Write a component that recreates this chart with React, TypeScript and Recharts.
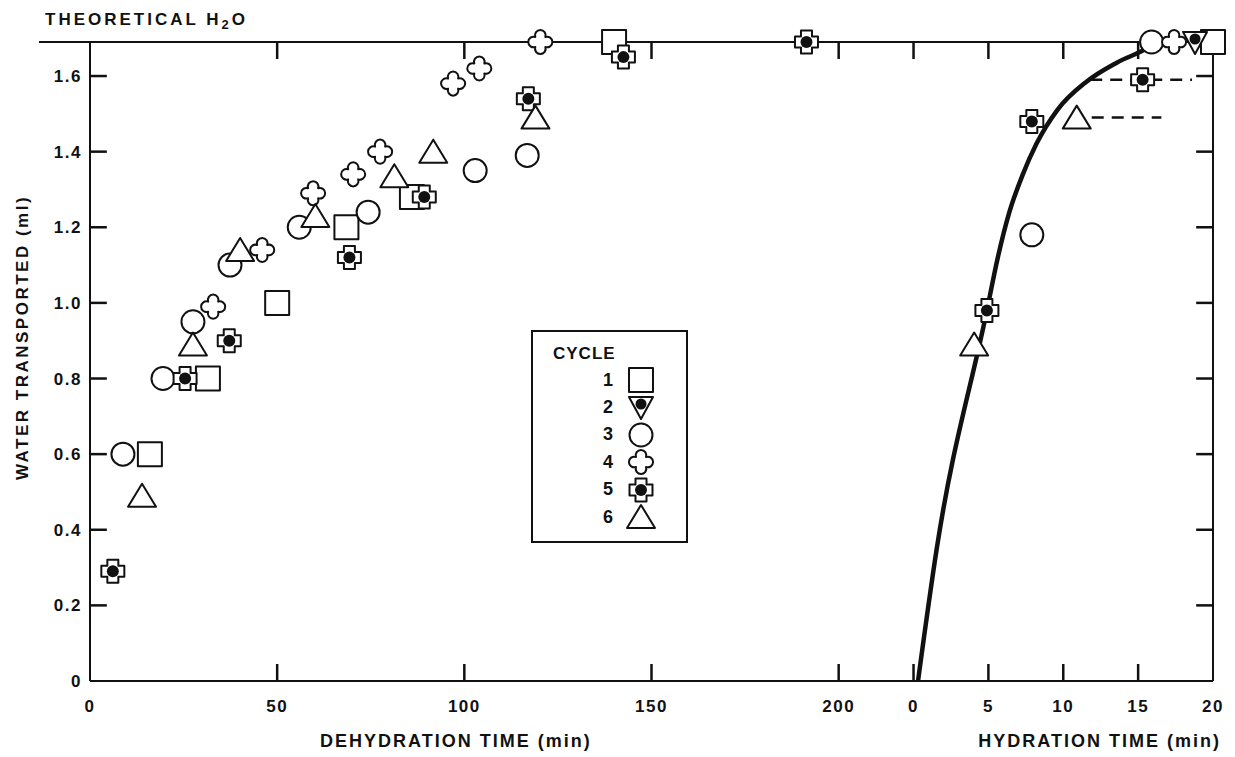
import React from "react";
import {
  ComposedChart,
  XAxis,
  YAxis,
  Scatter,
  Line,
  ReferenceLine,
  Legend,
} from "recharts";

const INK = "#111";
const FONT = "'Liberation Sans', Arial, Helvetica, sans-serif";

// theoretical water content (ml) = top of the frame
const THEORETICAL_H2O = 1.69;

// hydration minutes share the x axis with dehydration minutes:
// hydration 0 sits at 220 and one hydration minute spans 4 axis units
const HYD_OFFSET = 220;
const HYD_SCALE = 4;
const X_MAX = 300;
const toAxis = (m: number) => HYD_OFFSET + m * HYD_SCALE;

const DEHYD_TICKS = [0, 50, 100, 150, 200];
const HYD_TICKS = [0, 5, 10, 15, 20];
const Y_TICKS = [0, 0.2, 0.4, 0.6, 0.8, 1.0, 1.2, 1.4, 1.6];

const CYCLES = ["1", "2", "3", "4", "5", "6"];
const SHAPES = ["square", "invTriangle", "circle", "clover", "dotCross", "triangle"];

// cycle 1
const c1DehydT = [16, 31.5, 50, 68.5, 86, 140];
const c1DehydV = [0.6, 0.8, 1.0, 1.2, 1.28, 1.69];
const c1HydT = [20];
const c1HydV = [1.69];

// cycle 2
const c2DehydT: number[] = [];
const c2DehydV: number[] = [];
const c2HydT = [18.8];
const c2HydV = [1.69];

// cycle 3
const c3DehydT = [8.8, 19.5, 27.5, 37.4, 55.9, 74.3, 102.9, 116.8];
const c3DehydV = [0.6, 0.8, 0.95, 1.1, 1.2, 1.24, 1.35, 1.39];
const c3HydT = [7.9, 15.9];
const c3HydV = [1.18, 1.69];

// cycle 4
const c4DehydT = [32.9, 46, 59.6, 70.3, 77.5, 97, 104, 120.3];
const c4DehydV = [0.99, 1.14, 1.29, 1.34, 1.4, 1.58, 1.62, 1.69];
const c4HydT = [17.4];
const c4HydV = [1.69];

// cycle 5
const c5DehydT = [6.1, 25.4, 37.2, 69.3, 89.3, 117.1, 142.5, 191.4];
const c5DehydV = [0.29, 0.8, 0.9, 1.12, 1.28, 1.54, 1.65, 1.69];
const c5HydT = [4.9, 7.9, 15.3];
const c5HydV = [0.98, 1.48, 1.59];

// cycle 6
const c6DehydT = [13.9, 27.5, 40.1, 60.2, 81.3, 91.7, 119];
const c6DehydV = [0.49, 0.89, 1.14, 1.23, 1.335, 1.4, 1.49];
const c6HydT = [4.05, 10.9];
const c6HydV = [0.89, 1.49];

// hydration fit curve
const curveT = [0.3, 1.55, 4.9, 5.6, 6.4, 7.3, 8.2, 9.6, 11.55, 13.6, 15.65, 16.2];
const curveV = [0, 0.35, 0.98, 1.115, 1.24, 1.34, 1.42, 1.51, 1.585, 1.636, 1.675, 1.69];

// dashed plateau lines (hydration min)
const dashUpperT = [11.8, 18.6];
const dashUpperV = [1.59, 1.59];
const dashLowerT = [11.9, 16.55];
const dashLowerV = [1.49, 1.49];

const cycleData = [
  [c1DehydT, c1DehydV, c1HydT, c1HydV],
  [c2DehydT, c2DehydV, c2HydT, c2HydV],
  [c3DehydT, c3DehydV, c3HydT, c3HydV],
  [c4DehydT, c4DehydV, c4HydT, c4HydV],
  [c5DehydT, c5DehydV, c5HydT, c5HydV],
  [c6DehydT, c6DehydV, c6HydT, c6HydV],
].map(([dt, dv, ht, hv]) => [
  ...dt.map((t, i) => ({ x: t, y: dv[i] })),
  ...ht.map((t, i) => ({ x: toAxis(t), y: hv[i] })),
]);

const hydLine = (ts: number[], vs: number[]) =>
  ts.map((t, i) => ({ x: toAxis(t), y: vs[i] }));

const X_TICKS = [...DEHYD_TICKS, ...HYD_TICKS.map(toAxis)];
const fmtX = (v: number) =>
  v <= DEHYD_TICKS[DEHYD_TICKS.length - 1] ? String(v) : String((v - HYD_OFFSET) / HYD_SCALE);
const fmtY = (v: number) => (v === 0 ? "0" : v.toFixed(1));

// inward tick marks
const TICK_LEN = 17;
const TICK_DX = 4.5; // ~17px in axis units
const innerX = X_TICKS.filter((t) => t > 0 && t < X_MAX);
const innerY = Y_TICKS.filter((v) => v > 0);

const BOTTOM_GAP = 19;
const textBase = { fill: INK, fontWeight: 700, fontFamily: FONT };

const BottomTick = (p: any) => (
  <text x={p.x} y={p.y} dy="0.71em" textAnchor="middle" fontSize={17} letterSpacing={1.5} {...textBase}>
    {fmtX(p.payload.value)}
  </text>
);

const LeftTick = (p: any) => (
  <text x={p.x} y={p.y} dy="0.36em" textAnchor="end" fontSize={17} letterSpacing={1.5} {...textBase}>
    {fmtY(p.payload.value)}
  </text>
);

// horizontal frame edge (bottom or top) with its inward x ticks;
// tick positions follow the linear x domain across the edge
const edgeTicks = (p: any, dir: number) => {
  const left = Math.min(p.x1, p.x2);
  const right = Math.max(p.x1, p.x2);
  const y = p.y1;
  const d = innerX
    .map((t) => {
      const x = left + (t / X_MAX) * (right - left);
      return `M${x},${y} V${y + dir * TICK_LEN}`;
    })
    .join(" ");
  return <path d={d} stroke={INK} strokeWidth={2.5} fill="none" />;
};

const Marker = ({ kind, cx, cy }: { kind: string; cx: number; cy: number }) => {
  const common = { fill: "#fff", stroke: INK, strokeWidth: 2, strokeLinejoin: "round" as const };
  switch (kind) {
    case "square":
      return <rect x={cx - 12} y={cy - 12} width={24} height={24} {...common} />;
    case "invTriangle":
      return (
        <g>
          <polygon points={`${cx - 12},${cy - 10} ${cx + 12},${cy - 10} ${cx},${cy + 12}`} {...common} />
          <circle cx={cx} cy={cy - 3} r={5.5} fill={INK} />
        </g>
      );
    case "circle":
      return <circle cx={cx} cy={cy} r={11.5} {...common} />;
    case "clover": {
      const a = 5;
      const r = 5.3;
      const d = `M${cx - a},${cy - a} A${r} ${r} 0 1 1 ${cx + a},${cy - a} A${r} ${r} 0 1 1 ${cx + a},${cy + a} A${r} ${r} 0 1 1 ${cx - a},${cy + a} A${r} ${r} 0 1 1 ${cx - a},${cy - a} Z`;
      return <path d={d} {...common} />;
    }
    case "dotCross": {
      const w = 5.5;
      const s = 11.5;
      const d = `M${cx - w},${cy - s} H${cx + w} V${cy - w} H${cx + s} V${cy + w} H${cx + w} V${cy + s} H${cx - w} V${cy + w} H${cx - s} V${cy - w} H${cx - w} Z`;
      return (
        <g>
          <path d={d} {...common} />
          <circle cx={cx} cy={cy} r={6} fill={INK} />
        </g>
      );
    }
    default:
      return (
        <polygon points={`${cx},${cy - 12} ${cx + 14},${cy + 11} ${cx - 14},${cy + 11}`} {...common} />
      );
  }
};

const CycleLegend = () => (
  <div
    style={{
      position: "relative",
      width: 157,
      height: 213,
      boxSizing: "border-box",
      border: `2px solid ${INK}`,
      background: "#fff",
      fontFamily: FONT,
      fontWeight: 700,
      color: INK,
    }}
  >
    <div style={{ position: "absolute", left: 20, top: 12, fontSize: 17, letterSpacing: 1 }}>CYCLE</div>
    {CYCLES.map((c, i) => (
      <div
        key={c}
        style={{ position: "absolute", left: 0, top: 34 + i * 27.4, height: 28, display: "flex", alignItems: "center" }}
      >
        <span style={{ width: 80, textAlign: "right", fontSize: 18 }}>{c}</span>
        <svg width={30} height={28} style={{ marginLeft: 13 }}>
          <Marker kind={SHAPES[i]} cx={15} cy={14} />
        </svg>
      </div>
    ))}
  </div>
);

const App = () => {
  return (
    <div style={{ width: 1227, height: 749, background: "#fff", fontFamily: FONT }}>
      <ComposedChart width={1227} height={749} margin={{ top: 33, right: 21, bottom: 16, left: 22 }}>
        <XAxis
          xAxisId="b"
          type="number"
          dataKey="x"
          domain={[0, X_MAX]}
          ticks={X_TICKS}
          tick={BottomTick}
          tickLine={false}
          tickSize={0}
          tickMargin={BOTTOM_GAP}
          height={60}
          axisLine={{ stroke: INK, strokeWidth: 2 }}
          label={{
            content: (p: any) => {
              const vb = p.viewBox || {};
              return (
                <g>
                  <text x={vb.x + 230} y={vb.y + 66} fontSize={18} letterSpacing={2} {...textBase}>
                    DEHYDRATION TIME (min)
                  </text>
                  <text x={vb.x + vb.width + 8} y={vb.y + 66} textAnchor="end" fontSize={18} letterSpacing={2} {...textBase}>
                    HYDRATION TIME (min)
                  </text>
                </g>
              );
            },
          }}
        />
        <XAxis
          xAxisId="t"
          orientation="top"
          type="number"
          domain={[0, X_MAX]}
          ticks={X_TICKS}
          tick={false}
          tickLine={false}
          height={1}
          axisLine={{ stroke: INK, strokeWidth: 2 }}
        />
        <YAxis
          yAxisId="l"
          type="number"
          domain={[0, THEORETICAL_H2O]}
          ticks={Y_TICKS}
          tick={LeftTick}
          tickLine={false}
          tickSize={0}
          tickMargin={8}
          width={60}
          axisLine={{ stroke: INK, strokeWidth: 2 }}
          label={{
            content: (p: any) => {
              const vb = p.viewBox || {};
              const x = vb.x - 8;
              const y = vb.y + vb.height / 2 - 24;
              return (
                <text
                  x={x}
                  y={y}
                  transform={`rotate(-90, ${x}, ${y})`}
                  textAnchor="middle"
                  dominantBaseline="central"
                  fontSize={17}
                  letterSpacing={2.5}
                  {...textBase}
                >
                  WATER TRANSPORTED (ml)
                </text>
              );
            },
          }}
        />
        <YAxis
          yAxisId="r"
          orientation="right"
          type="number"
          domain={[0, THEORETICAL_H2O]}
          ticks={Y_TICKS}
          tick={false}
          tickLine={false}
          width={1}
          axisLine={{ stroke: INK, strokeWidth: 2 }}
        />
        <ReferenceLine
          xAxisId="b"
          yAxisId="l"
          y={THEORETICAL_H2O}
          shape={(p: any) => (
            <g>
              <line x1={Math.min(p.x1, p.x2) - 51} y1={p.y1} x2={Math.max(p.x1, p.x2)} y2={p.y2} stroke={INK} strokeWidth={2} />
              {edgeTicks(p, 1)}
              <text x={Math.min(p.x1, p.x2) - 45} y={p.y1 - 17} fontSize={17} letterSpacing={3} {...textBase}>
                THEORETICAL H
                <tspan fontSize={13} dy={4}>2</tspan>
                <tspan dy={-4}>O</tspan>
              </text>
            </g>
          )}
        />
        <ReferenceLine
          xAxisId="b"
          yAxisId="l"
          y={0}
          shape={(p: any) => edgeTicks(p, -1)}
        />
        {innerY.map((v) => (
          <ReferenceLine
            key={`l${v}`}
            xAxisId="b"
            yAxisId="l"
            segment={[{ x: 0, y: v }, { x: TICK_DX, y: v }]}
            stroke={INK}
            strokeWidth={2.5}
            ifOverflow="visible"
          />
        ))}
        {innerY.map((v) => (
          <ReferenceLine
            key={`r${v}`}
            xAxisId="b"
            yAxisId="l"
            segment={[{ x: X_MAX - TICK_DX, y: v }, { x: X_MAX, y: v }]}
            stroke={INK}
            strokeWidth={2.5}
            ifOverflow="visible"
          />
        ))}
        <Line
          xAxisId="b"
          yAxisId="l"
          data={hydLine(curveT, curveV)}
          dataKey="y"
          type="monotone"
          stroke={INK}
          strokeWidth={4.5}
          dot={false}
          isAnimationActive={false}
        />
        <Line
          xAxisId="b"
          yAxisId="l"
          data={hydLine(dashUpperT, dashUpperV)}
          dataKey="y"
          stroke={INK}
          strokeWidth={2.5}
          strokeDasharray="12 8"
          dot={false}
          isAnimationActive={false}
        />
        <Line
          xAxisId="b"
          yAxisId="l"
          data={hydLine(dashLowerT, dashLowerV)}
          dataKey="y"
          stroke={INK}
          strokeWidth={2.5}
          strokeDasharray="12 8"
          dot={false}
          isAnimationActive={false}
        />
        {cycleData.map((pts, i) => (
          <Scatter
            key={CYCLES[i]}
            name={CYCLES[i]}
            xAxisId="b"
            yAxisId="l"
            data={pts}
            dataKey="y"
            shape={(p: any) => <Marker kind={SHAPES[i]} cx={p.cx} cy={p.cy} />}
            isAnimationActive={false}
          />
        ))}
        <Legend
          layout="vertical"
          align="center"
          verticalAlign="middle"
          content={() => <CycleLegend />}
          wrapperStyle={{ left: 523, top: 322, width: 157, height: 213 }}
        />
      </ComposedChart>
    </div>
  );
};

export default App;
